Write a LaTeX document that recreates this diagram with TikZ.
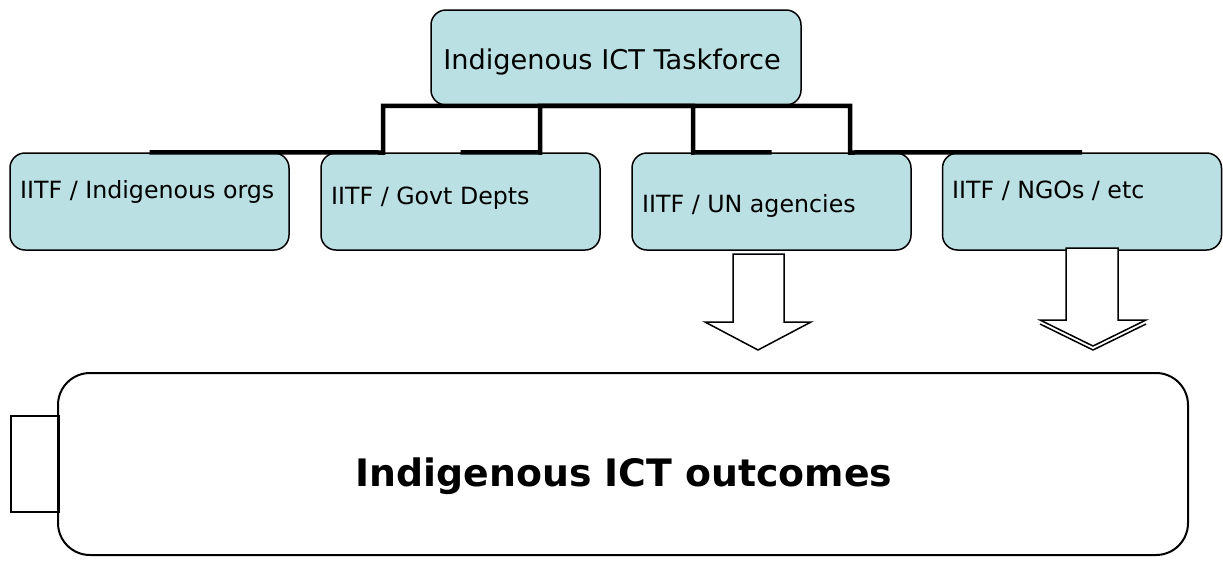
\documentclass[tikz,border=0pt]{standalone}
\usepackage{fontspec}
\setmainfont{DejaVu Sans}
\usepackage{xcolor}
\definecolor{boxfill}{RGB}{187,224,227}

\tikzset{
  subbox/.style={draw=black, line width=1.5pt, fill=boxfill, rounded corners=15pt, minimum width=279pt, minimum height=97pt, inner sep=0pt},
  boxtext/.style={anchor=base west, inner sep=0pt, font=\fontsize{23.7}{28}\selectfont},
  conn/.style={draw=black, line width=4.5pt},
  blockarrow/.style={draw=black, line width=1.5pt, fill=white, line join=miter}
}

\begin{document}
\begin{tikzpicture}[x=1pt, y=-1pt]
		\useasboundingbox (0,0) rectangle (1223,563);

		% Draw the taskforce box
		\node[subbox, minimum width=370pt, minimum height=95pt] (task) at (616,57.5) {};
		\node[anchor=base, inner sep=0pt, font=\fontsize{27.2}{32}\selectfont] (tasktext) at (612,69) {Indigenous ICT Taskforce};

		% Draw the four partner boxes
		\node[subbox] (orgs) at (149.5,201.5) {};
		\node[subbox] (govt) at (460.5,201.5) {};
		\node[subbox] (un) at (771.5,201.5) {};
		\node[subbox] (ngo) at (1082,201.5) {};
		\node[boxtext] (orgstext) at (20,198) {IITF / Indigenous orgs};
		\node[boxtext] (govttext) at (331,204) {IITF / Govt Depts};
		\node[boxtext] (untext) at (642,212) {IITF / UN agencies};
		\node[boxtext] (ngotext) at (952,198) {IITF / NGOs / etc};

		% Draw the elbow connectors
		\coordinate (e1) at (383,152.5);
		\coordinate (e2) at (540,152.5);
		\coordinate (e3) at (693,152.5);
		\coordinate (e4) at (850,152.5);
		\draw[conn] (task.south) -| (e1) -- (orgs.north);
		\draw[conn] (task.south) -| (e2) -- (govt.north);
		\draw[conn] (task.south) -| (e3) -- (un.north);
		\draw[conn] (task.south) -| (e4) -- (ngo.north);

		% Draw the block arrows
		\draw[blockarrow] (733,254) -- (784,254) -- (784,322) -- (811,322) -- (758,350) -- (705,322) -- (733,322) -- cycle;
		\draw[blockarrow] (1066,248) -- (1118,248) -- (1118,320) -- (1146,320) -- (1093,346) -- (1040,320) -- (1066,320) -- cycle;
		\draw[black, line width=1.5pt] (1040,324) -- (1093,350) -- (1146,324); % second edge of the arrow head

		% Draw the outcomes box
		\draw[black, line width=1.5pt, fill=white] (11,416) rectangle (59,512);
		\node[draw=black, line width=2pt, rounded corners=32pt, minimum width=1130pt, minimum height=182pt, inner sep=0pt] (outcomes) at (623,464) {};
		\node[anchor=base, inner sep=0pt, font=\bfseries\fontsize{37.8}{44}\selectfont] (outcomestext) at (624,486) {Indigenous ICT outcomes};

	\end{tikzpicture}
\end{document}
